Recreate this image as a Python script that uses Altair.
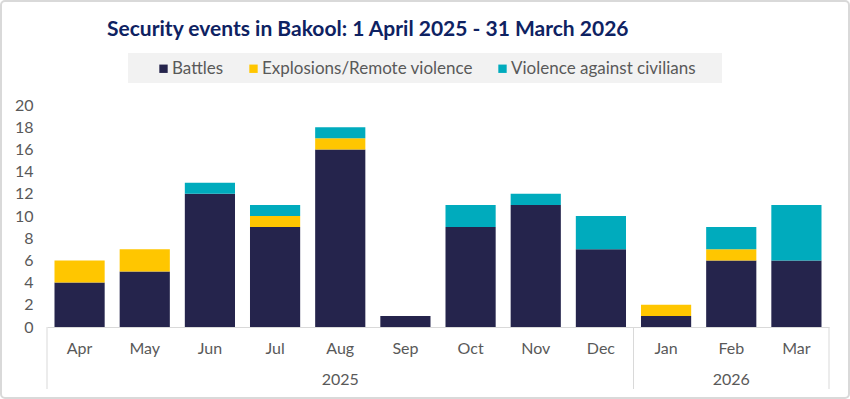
import altair as alt
import pandas as pd

months = ["Apr", "May", "Jun", "Jul", "Aug", "Sep", "Oct", "Nov", "Dec", "Jan", "Feb", "Mar"]
battles = [4, 5, 12, 9, 16, 1, 9, 11, 7, 1, 6, 6]
explosions = [2, 2, 0, 1, 1, 0, 0, 0, 0, 1, 1, 0]
violence = [0, 0, 1, 1, 1, 0, 2, 1, 3, 0, 2, 5]
series = ["Battles", "Explosions/Remote violence", "Violence against civilians"]
colors = ["#25244C", "#FFC600", "#00ABBD"]
years = ["2025", "2026"]
year_centre_month = ["Aug", "Feb"]
year_start_month = ["Apr", "Jan"]

rows = []
for i, m in enumerate(months):
    for k, (s, vals) in enumerate(zip(series, [battles, explosions, violence])):
        rows.append({"month": m, "series": s, "value": vals[i], "order": k})
df = pd.DataFrame(rows)

FONT = "Lato"
GRAY = "#595959"
W, H = 782, 222

xscale = alt.Scale(domain=months, paddingInner=0, paddingOuter=0)

frame = alt.Chart(alt.Data(values=[{}])).mark_rect(
    fill=None, stroke="#D9D9D9", strokeWidth=2, cornerRadius=4
).encode(x=alt.value(-46), x2=alt.value(802), y=alt.value(-104), y2=alt.value(293))

legend_bg = alt.Chart(alt.Data(values=[{}])).mark_rect(fill="#F2F2F2").encode(
    x=alt.value(81), x2=alt.value(675), y=alt.value(-52), y2=alt.value(-22)
)

bars = alt.Chart(df).mark_bar(width=alt.RelativeBandSize(0.77)).encode(
    x=alt.X("month:N", scale=xscale, sort=months,
            axis=alt.Axis(title=None, labelAngle=0, ticks=False, domainColor="#D9D9D9",
                          labelFontSize=16, labelColor=GRAY, labelFont=FONT, labelPadding=13)),
    y=alt.Y("value:Q", stack="zero", scale=alt.Scale(domain=[0, 20]),
            axis=alt.Axis(title=None, values=list(range(0, 21, 2)), grid=False, domain=False,
                          ticks=False, labelFontSize=16, labelColor=GRAY, labelFont=FONT,
                          labelPadding=14)),
    color=alt.Color("series:N", scale=alt.Scale(domain=series, range=colors),
                    legend=alt.Legend(title=None, orient="none", direction="horizontal",
                                      legendX=104, legendY=-45, symbolType="square",
                                      symbolSize=70, symbolStrokeWidth=0, symbolOffset=4,
                                      labelFontSize=17,
                                      labelColor=GRAY, labelFont=FONT, columnPadding=17,
                                      labelOffset=0, labelLimit=400, padding=0)),
    order=alt.Order("order:Q"),
)

sep_df = pd.DataFrame({"month": year_start_month})
seps = alt.Chart(sep_df).mark_rule(color="#D9D9D9", strokeWidth=1).encode(
    x=alt.X("month:N", scale=xscale, sort=months, bandPosition=0),
    y=alt.value(H), y2=alt.value(H + 62),
)
sep_end = alt.Chart(pd.DataFrame({"month": [months[-1]]})).mark_rule(color="#D9D9D9", strokeWidth=1).encode(
    x=alt.X("month:N", scale=xscale, sort=months, bandPosition=1),
    y=alt.value(H), y2=alt.value(H + 62),
)

year_df = pd.DataFrame({"month": year_centre_month, "year": years})
year_text = alt.Chart(year_df).mark_text(
    font=FONT, fontSize=16, color=GRAY, baseline="middle", align="center"
).encode(
    x=alt.X("month:N", scale=xscale, sort=months),
    y=alt.value(H + 53),
    text="year:N",
)

chart = alt.layer(frame, legend_bg, bars, seps, sep_end, year_text).properties(
    width=W, height=H,
    title=alt.TitleParams("Security events in Bakool: 1 April 2025 - 31 March 2026",
                          anchor="start", dx=107, offset=-40, font=FONT, fontSize=21,
                          fontWeight="bold", color="#0E2262"),
    autosize=alt.AutoSizeParams(type="none"),
    padding={"left": 47, "top": 105, "right": 21, "bottom": 72},
).configure(background="white").configure_view(stroke=None, strokeWidth=0)

chart.save("out.html", embed_options={"renderer": "svg", "actions": False})
